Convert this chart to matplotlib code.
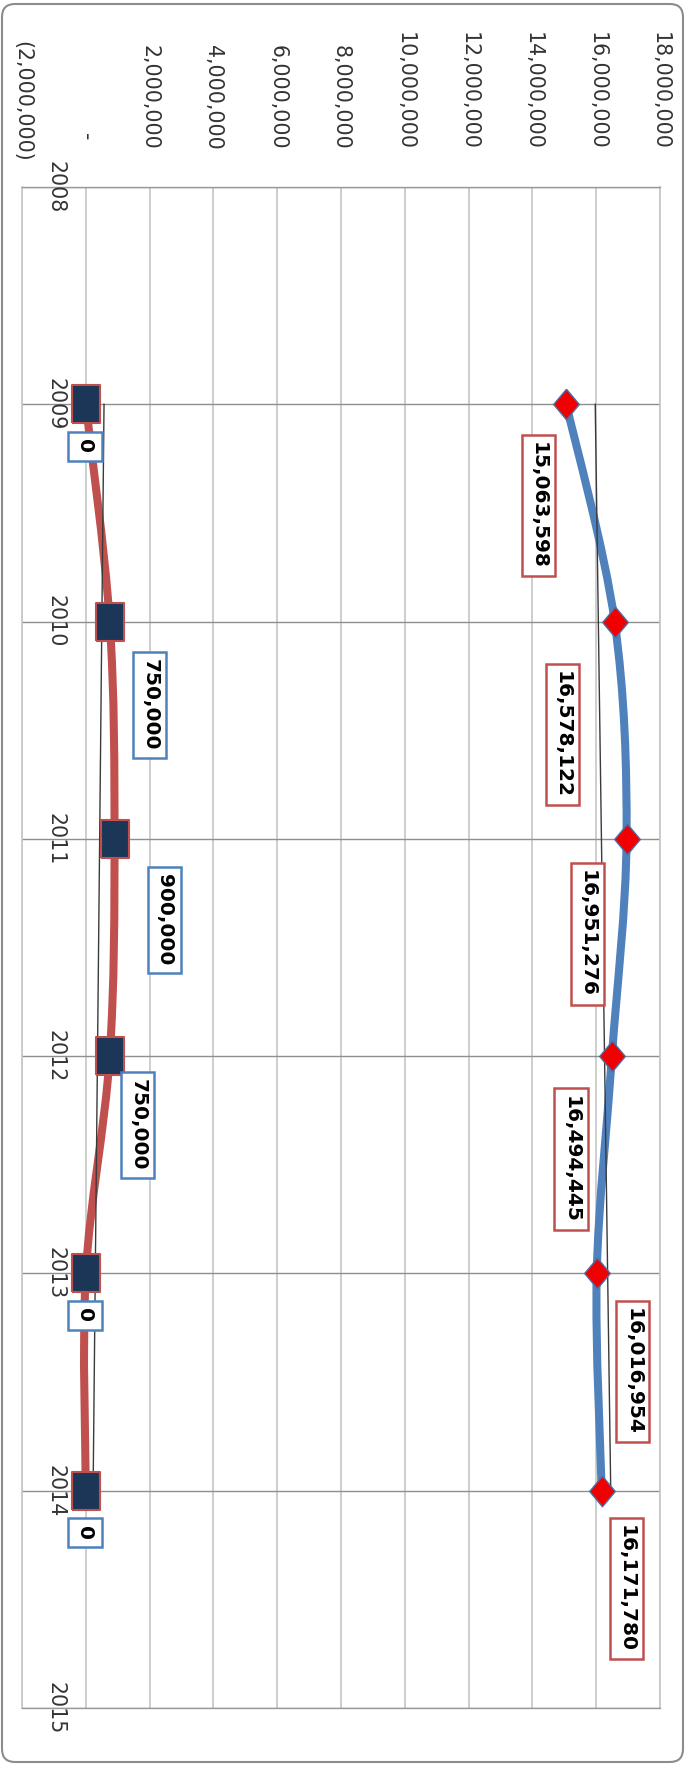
import numpy as np
import matplotlib
matplotlib.use("Agg")
import matplotlib.pyplot as plt
from matplotlib.path import Path
from matplotlib.patches import PathPatch, FancyBboxPatch
from matplotlib.transforms import blended_transform_factory

# ---------------- data ----------------
years = [2009, 2010, 2011, 2012, 2013, 2014]
year_ticks = [2008, 2009, 2010, 2011, 2012, 2013, 2014, 2015]
series_a = [15063598, 16578122, 16951276, 16494445, 16016954, 16171780]
series_b = [0, 750000, 900000, 750000, 0, 0]
value_ticks = [-2000000, 0, 2000000, 4000000, 6000000, 8000000,
               10000000, 12000000, 14000000, 16000000, 18000000]

# ---------------- layout (pixel offsets of labels: right, down) ----------------
label_off_a = [(-28, 101), (-52, 113), (-39, 95), (-41, 103), (36, 98), (25, 98)]
label_off_b = [(-1, 42), (40, 83), (50, 81), (28, 69), (-1, 42), (-1, 42)]

W, H = 685, 1766
fig = plt.figure(figsize=(W / 100, H / 100), dpi=100)
fig.patch.set_facecolor("white")

left_px, right_px, top_px, bot_px = 22, 660, 187, 1708
ax = fig.add_axes([left_px / W, 1 - bot_px / H, (right_px - left_px) / W, (bot_px - top_px) / H])
ax.set_xlim(value_ticks[0], value_ticks[-1])
ax.set_ylim(year_ticks[-1], year_ticks[0])
ax.set_xticks(value_ticks)
ax.set_yticks(year_ticks)
ax.tick_params(length=0, labelbottom=False, labelleft=False)
ax.set_axisbelow(True)
ax.xaxis.grid(True, color="#c6c6c6", lw=1.2)
ax.yaxis.grid(True, color="#8e8e8e", lw=1.0)
for s in ("left", "right"):
    ax.spines[s].set_color("#c6c6c6")
    ax.spines[s].set_linewidth(1.2)
for s in ("top", "bottom"):
    ax.spines[s].set_color("#9a9a9a")
    ax.spines[s].set_linewidth(1.0)

TXT = "#333333"

# value tick labels (rotated, above plot)
tr = blended_transform_factory(ax.transData, fig.transFigure)
for v in value_ticks:
    if v > 0:
        ax.text(v, 1 - 150 / H, f"{v:,}", transform=tr, rotation=270,
                ha="center", va="bottom", fontsize=14.8, color=TXT)
    elif v < 0:
        ax.text(v, 1 - 162 / H, f"({-v:,})", transform=tr, rotation=270,
                ha="center", va="bottom", fontsize=14.8, color=TXT)
    else:
        ax.text(v, 1 - 137 / H, "-", transform=tr, rotation=270,
                ha="center", va="center", fontsize=14.8, color=TXT)

# year labels next to the category axis (value 0)
for y in year_ticks:
    ax.annotate(str(y), xy=(0, y), xytext=(-30, 0), textcoords="offset pixels",
                rotation=270, ha="center", va="center", fontsize=14.8, color=TXT,
                annotation_clip=False)


def smooth_path(xs, ys):
    pts = np.column_stack([xs, ys]).astype(float)
    n = len(pts)
    verts = [pts[0]]
    codes = [Path.MOVETO]
    for i in range(n - 1):
        p0 = pts[i - 1] if i > 0 else pts[i]
        p1 = pts[i]
        p2 = pts[i + 1]
        p3 = pts[i + 2] if i + 2 < n else pts[i + 1]
        c1 = p1 + (p2 - p0) / 6.0
        c2 = p2 - (p3 - p1) / 6.0
        verts += [c1, c2, p2]
        codes += [Path.CURVE4] * 3
    return Path(verts, codes)


BLUE = "#4f81bd"
RED = "#c0504d"

ax.add_patch(PathPatch(smooth_path(series_a, years), fill=False, edgecolor=BLUE,
                       lw=5.8, capstyle="butt", joinstyle="round", zorder=3))
ax.add_patch(PathPatch(smooth_path(series_b, years), fill=False, edgecolor=RED,
                       lw=5.8, capstyle="butt", joinstyle="round", zorder=3))

# linear trendlines
for s in (series_a, series_b):
    coef = np.polyfit(years, s, 1)
    ax.plot(np.polyval(coef, years), years, color="#3a3a3a", lw=1.0, zorder=4)

diamond = [(0, 0.5), (0.42, 0), (0, -0.5), (-0.42, 0), (0, 0.5)]
rect = [(-0.38, -0.5), (0.38, -0.5), (0.38, 0.5), (-0.38, 0.5), (-0.38, -0.5)]

ax.plot(series_a, years, ls="none", marker=diamond, ms=22, mfc="#f00000",
        mec="#4a6fa5", mew=1.0, zorder=5)
ax.plot(series_b, years, ls="none", marker=rect, ms=27, mfc="#1c3658",
        mec=RED, mew=1.5, zorder=5)

for v, y, (dx, dy) in zip(series_a, years, label_off_a):
    ax.annotate(f"{v:,}", xy=(v, y), xytext=(dx, -dy), textcoords="offset pixels",
                rotation=270, ha="center", va="center", fontsize=14.5,
                fontweight="bold", color="black", zorder=6,
                bbox=dict(boxstyle="square,pad=0.36", fc="white", ec=RED, lw=1.8))

for v, y, (dx, dy) in zip(series_b, years, label_off_b):
    ax.annotate(f"{v:,}", xy=(v, y), xytext=(dx, -dy), textcoords="offset pixels",
                rotation=270, ha="center", va="center", fontsize=14.5,
                fontweight="bold", color="black", zorder=6,
                bbox=dict(boxstyle="square,pad=0.36", fc="white", ec=BLUE, lw=1.8))

# outer rounded chart frame
frame = FancyBboxPatch((0.02, 0.04), 6.81, 17.58,
                       boxstyle="round,pad=0,rounding_size=0.13",
                       transform=fig.dpi_scale_trans, fill=False,
                       edgecolor="#8c8c8c", lw=1.5, zorder=0)
fig.add_artist(frame)

fig.savefig("out.png", dpi=100)
